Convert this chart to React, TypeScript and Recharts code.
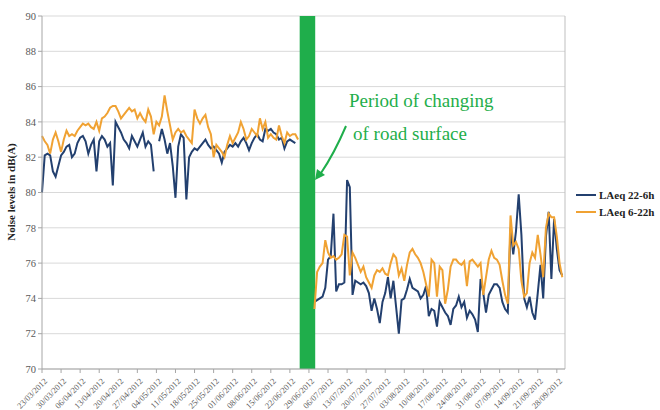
import { LineChart, Line, XAxis, YAxis, CartesianGrid, ReferenceArea, ReferenceLine, Legend } from "recharts";

// day index 0 = 23/03/2012, one point per day
const tickDays = [0, 7, 14, 21, 28, 35, 42, 49, 56, 63, 70, 77, 84, 91, 98, 105, 112, 119, 126, 133, 140, 147, 154, 161, 168, 175, 182, 189];
const tickLabels = [
  "23/03/2012", "30/03/2012", "06/04/2012", "13/04/2012", "20/04/2012", "27/04/2012", "04/05/2012",
  "11/05/2012", "18/05/2012", "25/05/2012", "01/06/2012", "08/06/2012", "15/06/2012", "22/06/2012",
  "29/06/2012", "06/07/2012", "13/07/2012", "20/07/2012", "27/07/2012", "03/08/2012", "10/08/2012",
  "17/08/2012", "24/08/2012", "31/08/2012", "07/09/2012", "14/09/2012", "21/09/2012", "28/09/2012",
];
const yTicks = [70, 72, 74, 76, 78, 80, 82, 84, 86, 88, 90];

// LAeq 22-6h, before the works (days 0-93)
const nightBefore = [
  80.0, 82.1, 82.2, 82.1, 81.2, 80.9, 81.5, 82.1, 82.3, 82.6,
  82.7, 82.0, 82.2, 82.8, 83.1, 83.2, 82.9, 82.2, 82.7, 83.0,
  81.2, 82.9, 83.2, 83.0, 82.6, 82.8, 80.4, 84.0, 83.7, 83.4,
  83.0, 82.8, 82.5, 83.2, 82.9, 82.6, 83.0, 83.4, 82.6, 82.9,
  82.7, 81.2, null, 82.9, 83.6, 83.0, 82.2, 82.8, 81.5, 79.7,
  82.6, 83.3, 83.1, 79.6, 82.0, 82.3, 82.5, 82.4, 82.6, 82.8,
  83.0, 82.7, 82.5, 82.6, 82.4, 82.2, 81.7, 82.3, 82.5, 82.7,
  82.6, 82.8, 82.6, 82.9, 83.1, 82.8, 82.4, 82.8, 83.1, 83.3,
  83.0, 82.9, 83.6, 83.5, 83.6, 83.4, 83.3, 83.0, 83.1, 82.5,
  82.9, 83.0, 82.9, 82.8,
];
// LAeq 22-6h, after the works (days 100-191)
const nightAfter = [
  73.8, 73.9, 74.0, 74.1, 74.6, 76.2, 76.4, 78.8, 74.4, 74.8,
  74.8, 74.9, 80.7, 80.3, 74.2, 75.0, 74.9, 74.8, 74.9, 74.7,
  74.3, 73.3, 74.0, 73.4, 72.6, 73.8, 74.3, 75.2, 74.0, 75.0,
  73.5, 72.0, 73.9, 74.0, 74.5, 75.1, 74.6, 74.5, 74.4, 74.0,
  74.2, 74.7, 73.0, 73.4, 73.3, 72.4, 73.8, 73.5, 73.2, 73.0,
  72.5, 73.4, 73.6, 74.1, 73.5, 73.8, 72.9, 73.3, 73.1, 72.8,
  72.1, 75.1, 74.3, 73.2, 74.2, 74.5, 74.8, 74.8, 74.6, 73.8,
  73.4, 73.2, 78.0, 76.5, 77.8, 79.9, 77.6, 74.0, 73.5, 74.1,
  73.2, 72.8, 74.3, 75.9, 74.0, 77.5, 78.9, 75.1, 78.5, 76.8,
  75.6, 75.3,
];
// LAeq 6-22h, before the works (days 0-94)
const dayBefore = [
  83.2, 82.9, 82.7, 82.2, 83.0, 83.4, 82.9, 82.3, 83.0, 83.5,
  83.2, 83.3, 83.2, 83.5, 83.7, 83.9, 83.8, 83.9, 83.7, 83.6,
  84.0, 83.5, 84.2, 84.3, 84.5, 84.8, 84.9, 84.9, 84.6, 84.2,
  84.4, 84.6, 84.8, 84.6, 84.7, 84.2, 84.5, 84.2, 84.0, 84.7,
  84.3, 83.3, 84.0, 83.8, 84.3, 85.5, 84.6, 83.8, 83.0, 83.4,
  83.6, 83.4, 83.5, 83.2, 83.0, 82.8, 84.7, 84.2, 83.9, 84.2,
  84.4, 83.7, 83.3, 82.0, 82.7, 82.5, 82.3, 82.0, 82.7, 83.2,
  82.8, 83.1, 83.4, 84.0, 83.6, 83.0, 83.2, 83.6, 83.4, 83.2,
  84.2, 83.6, 84.0, 83.1, 83.3, 83.1, 83.0, 83.8, 83.2, 82.8,
  83.4, 83.2, 83.3, 83.3, 83.0,
];
// LAeq 6-22h, after the works (days 100-191)
const dayAfter = [
  73.4, 75.5, 75.8, 76.0, 77.3, 76.6, 76.3, 76.4, 76.2, 76.3,
  76.5, 77.6, 77.5, 75.3, 76.6, 76.3, 75.9, 75.5, 75.8, 75.2,
  74.9, 74.6, 75.3, 75.6, 75.5, 75.7, 75.4, 75.3, 76.0, 76.5,
  76.3, 75.3, 75.7, 75.0, 75.9, 76.6, 76.8, 76.5, 76.3, 76.0,
  75.5, 74.8, 74.1, 76.2, 76.0, 74.1, 75.8, 75.6, 73.7, 74.5,
  75.8, 76.2, 76.2, 76.0, 75.9, 76.1, 74.7, 76.1, 76.2, 76.0,
  75.8, 76.0, 74.2, 75.2, 76.2, 76.7, 76.3, 76.2, 75.9, 75.0,
  74.2, 73.7, 78.7, 77.0, 77.2, 76.8, 75.0, 74.1, 74.3, 76.0,
  76.6, 76.3, 77.6, 76.5, 75.2, 78.0, 78.8, 78.6, 78.6, 77.5,
  76.0, 75.2,
];

const worksStart = 94.6;
const worksEnd = 100.3;
const afterStart = 100;
const lastDay = 191;

const data = Array.from({ length: lastDay + 1 }, (_, day) => {
  const night = day < nightBefore.length ? nightBefore[day] : day >= afterStart ? nightAfter[day - afterStart] : null;
  const dayVal = day < dayBefore.length ? dayBefore[day] : day >= afterStart ? dayAfter[day - afterStart] : null;
  return { day, night, dayVal };
});

const SERIF = "Liberation Serif, DejaVu Serif, serif";
const GREEN = "#1fae4b";

function DateTick({ x, y, payload }: any) {
  const label = tickLabels[tickDays.indexOf(payload.value)];
  return (
    <g transform={`translate(${x + 4},${y + 5}) rotate(-45)`}>
      <text x={0} y={0} dy="0.3em" textAnchor="end" fontSize={8.5} fill="#595959" fontFamily={SERIF}>
        {label}
      </text>
    </g>
  );
}

function LegendBox({ payload }: any) {
  return (
    <div>
      {(payload || []).map((p: any) => (
        <div key={p.value} style={{ display: "flex", alignItems: "center", height: 17 }}>
          <span style={{ display: "inline-block", width: 20, height: 2, background: p.color, marginRight: 3 }} />
          <span style={{ fontSize: 11, fontWeight: "bold", fontFamily: SERIF, color: "#222", whiteSpace: "nowrap" }}>{p.value}</span>
        </div>
      ))}
    </div>
  );
}

export default function App() {
  return (
    <div style={{ position: "absolute", left: 0, top: 0, width: 660, height: 410, background: "#fff" }}>
      <LineChart width={660} height={410} data={data} margin={{ top: 16, right: 11, left: 12, bottom: 0 }}>
        <CartesianGrid vertical={false} stroke="#d9d9d9" />
        <ReferenceArea x1={worksStart} x2={worksEnd} y1={70} y2={90} fill={GREEN} fillOpacity={1} stroke="none" />
        <ReferenceLine x={192} stroke="#bfbfbf" />
        <XAxis
          type="number"
          dataKey="day"
          domain={[0, 192]}
          ticks={tickDays}
          interval={0}
          tick={<DateTick />}
          tickLine={{ stroke: "#a6a6a6" }}
          tickSize={4}
          axisLine={{ stroke: "#a6a6a6" }}
          height={41}
        />
        <YAxis
          domain={[70, 90]}
          ticks={yTicks}
          interval={0}
          width={30}
          tick={{ fontSize: 10.5, fill: "#595959", fontFamily: SERIF }}
          tickLine={{ stroke: "#a6a6a6" }}
          tickSize={4}
          axisLine={{ stroke: "#a6a6a6" }}
        />
        <Legend layout="vertical" align="right" verticalAlign="top" wrapperStyle={{ left: 576, top: 186, width: 84 }} content={<LegendBox />} />
        <Line name="LAeq 22-6h" dataKey="night" stroke="#23406f" strokeWidth={2} dot={false} isAnimationActive={false} />
        <Line name="LAeq 6-22h" dataKey="dayVal" stroke="#f0a233" strokeWidth={2} dot={false} isAnimationActive={false} />
      </LineChart>
      <svg width={660} height={410} style={{ position: "absolute", left: 0, top: 0, pointerEvents: "none" }}>
        <text transform="translate(15,192) rotate(-90)" textAnchor="middle" fontSize={11} fontWeight="bold" fontFamily={SERIF} fill="#222">
          Noise levels in dB(A)
        </text>
        <text x={349} y={107} fontSize={19} fontFamily={SERIF} fill={GREEN}>Period of changing</text>
        <text x={353} y={140} fontSize={19} fontFamily={SERIF} fill={GREEN}>of road surface</text>
        <path d="M 346 126 Q 334 154 321 173" fill="none" stroke={GREEN} strokeWidth={2} />
        <polygon points="315,180 317,169 325,175" fill={GREEN} />
      </svg>
    </div>
  );
}
